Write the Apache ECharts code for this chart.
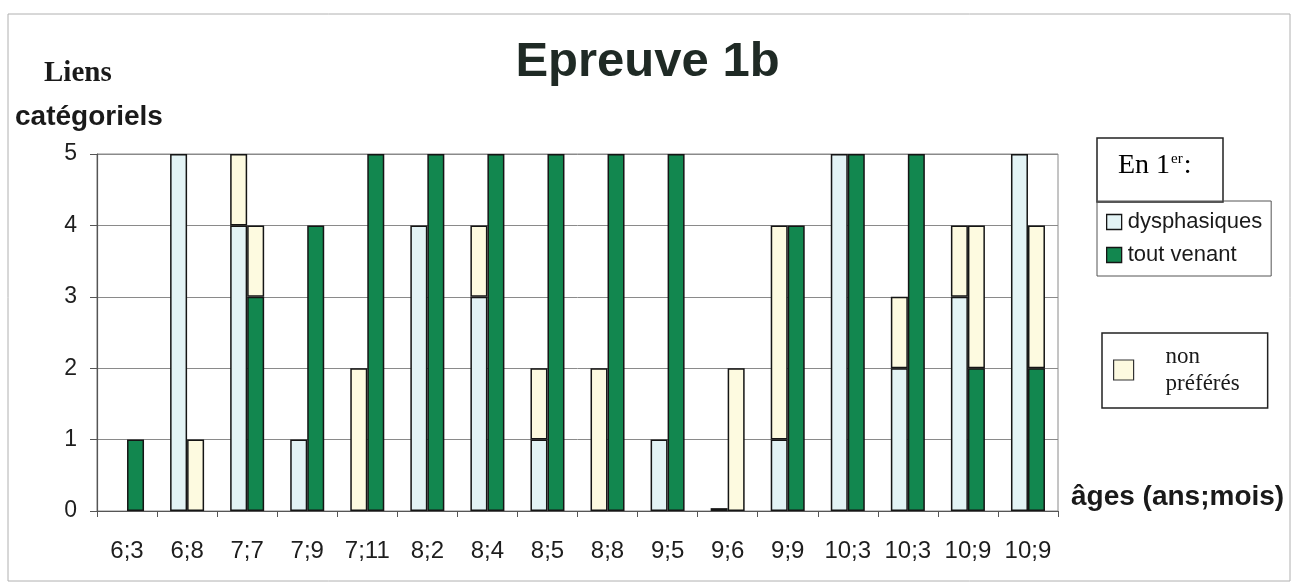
<!DOCTYPE html>
<html>
<head>
<meta charset="utf-8">
<title>Epreuve 1b</title>
<script src="https://cdn.jsdelivr.net/npm/echarts@6/dist/echarts.min.js"></script>
<style>
  html, body { margin: 0; padding: 0; background: #fff; }
  #chart { width: 1295px; height: 587px; }
</style>
</head>
<body>
<div id="chart"></div>
<script>
  // âges (ans;mois)
  const categories = ['6;3', '6;8', '7;7', '7;9', '7;11', '8;2', '8;4', '8;5', '8;8', '9;5', '9;6', '9;9', '10;3', '10;3', '10;9', '10;9']
  // liens catégoriels, en 1er : dysphasiques
  const dysphasiques = [0, 5, 4, 1, 0, 4, 3, 1, 0, 1, 0.04, 1, 5, 2, 3, 5]
  const dysNonPreferes = [0, 0, 1, 0, 2, 0, 1, 1, 2, 0, 0, 3, 0, 1, 1, 0]
  // en 1er : tout venant
  const toutVenant = [1, 0, 3, 4, 5, 5, 5, 5, 5, 5, 0, 4, 5, 5, 2, 2]
  const tvNonPreferes = [0, 1, 1, 0, 0, 0, 0, 0, 0, 0, 2, 0, 0, 0, 2, 2]
  const yTicks = [0, 1, 2, 3, 4, 5]

  const BLUE = '#e3f3f5'
  const GREEN = '#12874f'
  const YELLOW = '#fdfae0'
  const EDGE = '#151515'

  const chart = echarts.init(document.getElementById('chart'))

  const barStyle = color => ({
    color,
    borderColor: EDGE,
    borderWidth: 1.5,
  })

  // les zéros ne dessinent pas de barre
  const noZero = arr => arr.map(v => (v === 0 ? null : v))

  const option = {
    animation: false,
    title: [
      {
        text: 'Epreuve 1b',
        left: 'center',
        top: 33,
        textStyle: {
          fontFamily: 'Liberation Sans',
          fontWeight: 'bold',
          fontSize: 49,
          color: '#1f2a25',
        },
      },
      {
        text: 'Liens',
        left: 39,
        top: 54,
        textStyle: {
          fontFamily: 'Liberation Serif',
          fontWeight: 'bold',
          fontSize: 29,
          color: '#1a1a1a',
        },
      },
      {
        text: 'catégoriels',
        left: 10,
        top: 98,
        textStyle: {
          fontFamily: 'Liberation Sans',
          fontWeight: 'bold',
          fontSize: 28,
          color: '#1a1a1a',
        },
      },
    ],
    legend: [
      {
        data: ['dysphasiques', 'tout venant'],
        orient: 'vertical',
        left: 1097,
        top: 201,
        padding: [10, 9, 10, 9],
        itemGap: 11,
        itemWidth: 15,
        itemHeight: 15,
        icon: 'rect',
        selectedMode: false,
        borderColor: '#555',
        borderWidth: 1,
        itemStyle: { borderColor: EDGE, borderWidth: 1.3 },
        textStyle: {
          fontFamily: 'Liberation Sans',
          fontSize: 22,
          color: '#1a1a1a',
          padding: [0, 0, 0, 1],
        },
      },
      {
        data: ['non préférés'],
        left: 1102,
        top: 333,
        padding: [10, 28, 11, 11],
        itemWidth: 20,
        itemHeight: 20,
        icon: 'rect',
        selectedMode: false,
        borderColor: '#222',
        borderWidth: 1.5,
        itemStyle: { borderColor: '#333', borderWidth: 1.2 },
        formatter: () => 'non\npréférés',
        textStyle: {
          fontFamily: 'Liberation Serif',
          fontSize: 23,
          lineHeight: 27,
          color: '#1a1a1a',
          padding: [0, 0, 0, 27],
        },
      },
    ],
    graphic: [
      {
        type: 'rect',
        shape: { x: 8, y: 14, width: 1282, height: 567 },
        style: { fill: 'none', stroke: '#b0b0b0', lineWidth: 1 },
        silent: true,
      },
      {
        type: 'rect',
        shape: { x: 1097, y: 138, width: 126, height: 64 },
        style: { fill: '#fff', stroke: '#222', lineWidth: 1.5 },
        silent: true,
      },
      {
        type: 'text',
        left: 1118,
        top: 152,
        style: {
          text: '{a|En 1}{s|er}{a|:}',
          rich: {
            a: { fontFamily: 'Liberation Serif', fontSize: 28, color: '#1a1a1a' },
            s: { fontFamily: 'Liberation Serif', fontSize: 15, color: '#1a1a1a', verticalAlign: 'top', padding: [0, 1, 12, 1] },
          },
        },
        silent: true,
      },
    ],
    grid: {
      left: 97,
      right: 237,
      top: 154,
      bottom: 76,
      show: true,
      borderColor: '#8a8a8a',
      borderWidth: 1,
    },
    xAxis: {
      type: 'category',
      data: categories,
      name: 'âges (ans;mois)',
      nameLocation: 'end',
      nameGap: 13,
      nameTextStyle: {
        fontFamily: 'Liberation Sans',
        fontWeight: 'bold',
        fontSize: 28,
        color: '#1a1a1a',
        verticalAlign: 'bottom',
        padding: [0, 0, 0, 0],
      },
      axisLine: { lineStyle: { color: '#555', width: 1.2 } },
      axisTick: { show: true, length: 6, lineStyle: { color: '#555' } },
      axisLabel: {
        interval: 0,
        margin: 28,
        fontFamily: 'Liberation Sans',
        fontSize: 24,
        color: '#1e1e1e',
      },
    },
    yAxis: {
      type: 'value',
      min: yTicks[0],
      max: yTicks[yTicks.length - 1],
      interval: 1,
      axisLine: { show: true, lineStyle: { color: '#555', width: 1.2 } },
      axisTick: { show: true, length: 7, lineStyle: { color: '#555' } },
      splitLine: { lineStyle: { color: '#8a8a8a', width: 1 } },
      axisLabel: {
        margin: 20,
        fontFamily: 'Liberation Sans',
        fontSize: 23,
        color: '#1e1e1e',
      },
    },
    series: [
      {
        name: 'dysphasiques',
        type: 'bar',
        stack: 'dys',
        barWidth: 17,
        barGap: '0%',
        itemStyle: barStyle(BLUE),
        data: noZero(dysphasiques),
      },
      {
        name: 'non préférés',
        type: 'bar',
        stack: 'dys',
        barWidth: 17,
        barGap: '0%',
        itemStyle: barStyle(YELLOW),
        data: noZero(dysNonPreferes),
      },
      {
        name: 'tout venant',
        type: 'bar',
        stack: 'tv',
        barWidth: 17,
        barGap: '0%',
        itemStyle: barStyle(GREEN),
        data: noZero(toutVenant),
      },
      {
        name: 'non préférés',
        type: 'bar',
        stack: 'tv',
        barWidth: 17,
        barGap: '0%',
        itemStyle: barStyle(YELLOW),
        data: noZero(tvNonPreferes),
      },
    ],
  }

  chart.setOption(option)
</script>
</body>
</html>
